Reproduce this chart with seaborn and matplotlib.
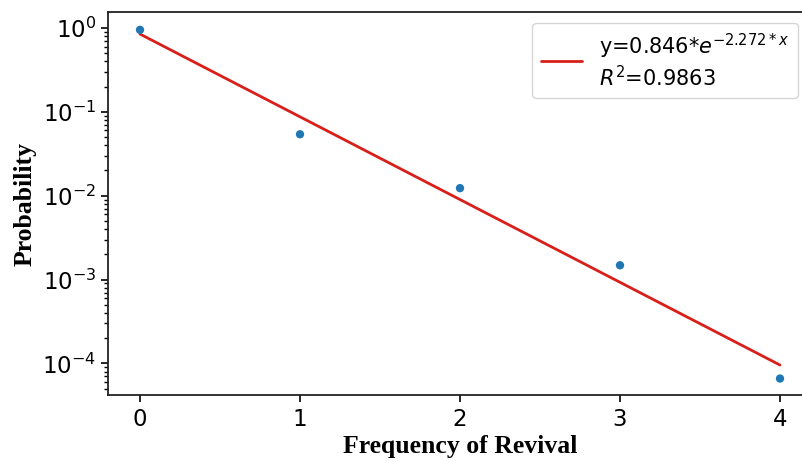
import numpy as np
import pandas as pd
import matplotlib
matplotlib.use("Agg")
import matplotlib.pyplot as plt
import seaborn as sns

# Data
revival = [0, 1, 2, 3, 4]
probability = [0.95, 0.054, 0.0123, 0.00148, 6.6e-5]
fit_a = 0.846
fit_b = -2.272
r2 = 0.9863
xticks = [0, 1, 2, 3, 4]

sns.set_style("ticks")
plt.rcParams['font.family'] = ['DejaVu Sans']
plt.rcParams.update({
    "text.color": "black", "axes.labelcolor": "black",
    "xtick.color": "black", "ytick.color": "black",
    "axes.edgecolor": "#222222",
})

fig = plt.figure(figsize=(8.03, 4.61), dpi=100)
ax = fig.add_axes([108/803, 1 - 395/461, (812 - 108)/803, (395 - 12)/461])

xfit = np.linspace(0, 4, 100)
fit_df = pd.DataFrame({"x": xfit, "y": fit_a * np.exp(fit_b * xfit)})
sns.lineplot(data=fit_df, x="x", y="y", ax=ax, color="#d91f1a", linewidth=2,
             label=f"y={fit_a}*$e^{{{fit_b}*x}}$\n$R^2$={r2}")

pts = pd.DataFrame({"x": revival, "y": probability})
sns.scatterplot(data=pts, x="x", y="y", ax=ax, color="#1f77b4", s=36,
                edgecolor="none", zorder=3)

ax.set_yscale("log")
ax.set_xlim(-0.2, 4.2)
ax.set_ylim(4.2e-5, 1.55)
ax.set_xticks(xticks)
ax.set_xticklabels([str(t) for t in xticks])
ax.tick_params(axis="both", which="major", labelsize=16.5, length=5, width=1.2)
ax.tick_params(axis="x", which="major", pad=4.5)
ax.tick_params(axis="y", which="minor", length=3, width=1)

ax.set_xlabel("Frequency of Revival", fontsize=18.5, fontweight="bold",
              family="Liberation Serif", labelpad=3)
ax.set_ylabel("Probability", fontsize=18.5, fontweight="bold",
              family="Liberation Serif")

for s in ax.spines.values():
    s.set_visible(True)
    s.set_linewidth(1.3)

leg = ax.legend(loc="upper right", bbox_to_anchor=(0.980, 0.971), fontsize=15,
                frameon=True, handlelength=2.0, borderaxespad=0)

fig.savefig("out.png", dpi=100)
